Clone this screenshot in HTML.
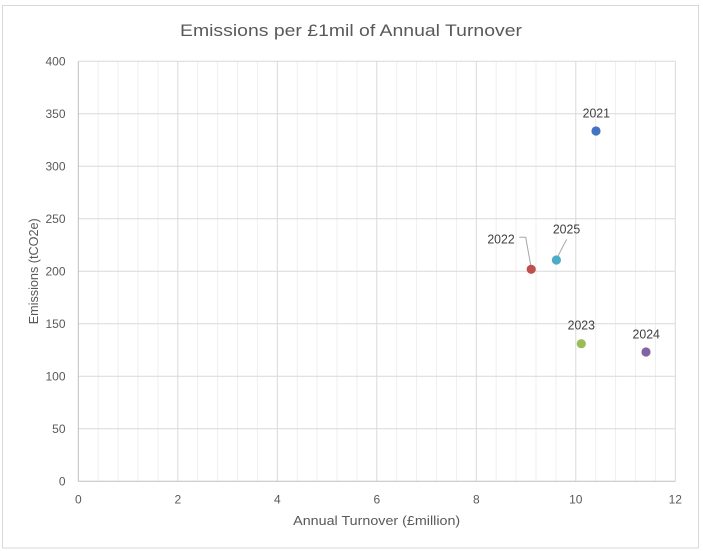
<!DOCTYPE html>
<html>
<head>
<meta charset="utf-8">
<style>
html,body{margin:0;padding:0;background:#fff;}
svg{display:block;}
text{font-family:"Liberation Sans",sans-serif;}
</style>
</head>
<body>
<svg width="703" height="551" viewBox="0 0 703 551" xmlns="http://www.w3.org/2000/svg">
<rect x="0" y="0" width="703" height="551" fill="#fff"/>
<rect x="2.5" y="5.5" width="696" height="542.5" fill="#fff" stroke="#d9d9d9" stroke-width="1"/>

<!-- title -->
<text x="351" y="36" font-size="17" fill="#595959" text-anchor="middle" textLength="342" lengthAdjust="spacingAndGlyphs">Emissions per £1mil of Annual Turnover</text>

<!-- minor vertical gridlines -->
<g stroke="#efefef" stroke-width="1">
<line x1="98.2" y1="61.3" x2="98.2" y2="481.3"/>
<line x1="118.1" y1="61.3" x2="118.1" y2="481.3"/>
<line x1="138" y1="61.3" x2="138" y2="481.3"/>
<line x1="157.9" y1="61.3" x2="157.9" y2="481.3"/>
<line x1="197.7" y1="61.3" x2="197.7" y2="481.3"/>
<line x1="217.6" y1="61.3" x2="217.6" y2="481.3"/>
<line x1="237.5" y1="61.3" x2="237.5" y2="481.3"/>
<line x1="257.4" y1="61.3" x2="257.4" y2="481.3"/>
<line x1="297.2" y1="61.3" x2="297.2" y2="481.3"/>
<line x1="317.1" y1="61.3" x2="317.1" y2="481.3"/>
<line x1="337" y1="61.3" x2="337" y2="481.3"/>
<line x1="356.9" y1="61.3" x2="356.9" y2="481.3"/>
<line x1="396.7" y1="61.3" x2="396.7" y2="481.3"/>
<line x1="416.6" y1="61.3" x2="416.6" y2="481.3"/>
<line x1="436.5" y1="61.3" x2="436.5" y2="481.3"/>
<line x1="456.4" y1="61.3" x2="456.4" y2="481.3"/>
<line x1="496.2" y1="61.3" x2="496.2" y2="481.3"/>
<line x1="516.1" y1="61.3" x2="516.1" y2="481.3"/>
<line x1="536" y1="61.3" x2="536" y2="481.3"/>
<line x1="555.9" y1="61.3" x2="555.9" y2="481.3"/>
<line x1="595.7" y1="61.3" x2="595.7" y2="481.3"/>
<line x1="615.6" y1="61.3" x2="615.6" y2="481.3"/>
<line x1="635.5" y1="61.3" x2="635.5" y2="481.3"/>
<line x1="655.4" y1="61.3" x2="655.4" y2="481.3"/>
</g>

<!-- major gridlines -->
<g stroke="#d9d9d9" stroke-width="1">
<line x1="78.3" y1="61.3" x2="675.5" y2="61.3"/>
<line x1="78.3" y1="113.8" x2="675.5" y2="113.8"/>
<line x1="78.3" y1="166.3" x2="675.5" y2="166.3"/>
<line x1="78.3" y1="218.8" x2="675.5" y2="218.8"/>
<line x1="78.3" y1="271.3" x2="675.5" y2="271.3"/>
<line x1="78.3" y1="323.8" x2="675.5" y2="323.8"/>
<line x1="78.3" y1="376.3" x2="675.5" y2="376.3"/>
<line x1="78.3" y1="428.8" x2="675.5" y2="428.8"/>
<line x1="177.8" y1="61.3" x2="177.8" y2="481.3"/>
<line x1="277.3" y1="61.3" x2="277.3" y2="481.3"/>
<line x1="376.8" y1="61.3" x2="376.8" y2="481.3"/>
<line x1="476.3" y1="61.3" x2="476.3" y2="481.3"/>
<line x1="575.8" y1="61.3" x2="575.8" y2="481.3"/>
<line x1="675.3" y1="61.3" x2="675.3" y2="481.3"/>
</g>

<!-- axes -->
<g stroke="#bfbfbf" stroke-width="1">
<line x1="78.3" y1="61.3" x2="78.3" y2="481.3"/>
<line x1="78.3" y1="481.3" x2="675.5" y2="481.3"/>
</g>

<!-- y tick labels -->
<g font-size="12" fill="#595959" text-anchor="end">
<text x="65.5" y="65.5">400</text>
<text x="65.5" y="118">350</text>
<text x="65.5" y="170.5">300</text>
<text x="65.5" y="223">250</text>
<text x="65.5" y="275.5">200</text>
<text x="65.5" y="328">150</text>
<text x="65.5" y="380.5">100</text>
<text x="65.5" y="433">50</text>
<text x="65.5" y="485.5">0</text>
</g>

<!-- x tick labels -->
<g font-size="12" fill="#595959" text-anchor="middle">
<text x="78.3" y="503.5">0</text>
<text x="177.8" y="503.5">2</text>
<text x="277.3" y="503.5">4</text>
<text x="376.8" y="503.5">6</text>
<text x="476.3" y="503.5">8</text>
<text x="575.8" y="503.5">10</text>
<text x="675.3" y="503.5">12</text>
</g>

<!-- axis titles -->
<text x="376.7" y="525" font-size="13" fill="#595959" text-anchor="middle" textLength="167" lengthAdjust="spacingAndGlyphs">Annual Turnover (£million)</text>
<text transform="translate(38,271.3) rotate(-90)" x="0" y="0" font-size="13" fill="#595959" text-anchor="middle" textLength="106" lengthAdjust="spacingAndGlyphs">Emissions (tCO2e)</text>

<!-- leader lines -->
<g stroke="#a6a6a6" stroke-width="1" fill="none">
<polyline points="519.3,237.3 525.7,237.3 530.7,265.3"/>
<line x1="566.7" y1="239.3" x2="557.3" y2="257.3"/>
</g>

<!-- markers -->
<circle cx="596" cy="131" r="4.6" fill="#4472C4"/>
<circle cx="531.2" cy="269.3" r="4.6" fill="#C0504D"/>
<circle cx="556.4" cy="260" r="4.6" fill="#4BACC6"/>
<circle cx="581.3" cy="343.7" r="4.6" fill="#9BBB59"/>
<circle cx="646" cy="352" r="4.6" fill="#8064A2"/>

<!-- data labels -->
<g font-size="13" fill="#404040" text-anchor="middle">
<text x="596.3" y="117.3" textLength="27.3" lengthAdjust="spacingAndGlyphs">2021</text>
<text x="501" y="243.3" textLength="27.3" lengthAdjust="spacingAndGlyphs">2022</text>
<text x="566.5" y="233.3" textLength="27.3" lengthAdjust="spacingAndGlyphs">2025</text>
<text x="581.3" y="329.3" textLength="27.3" lengthAdjust="spacingAndGlyphs">2023</text>
<text x="646.2" y="338.3" textLength="27.3" lengthAdjust="spacingAndGlyphs">2024</text>
</g>
</svg>
</body>
</html>
